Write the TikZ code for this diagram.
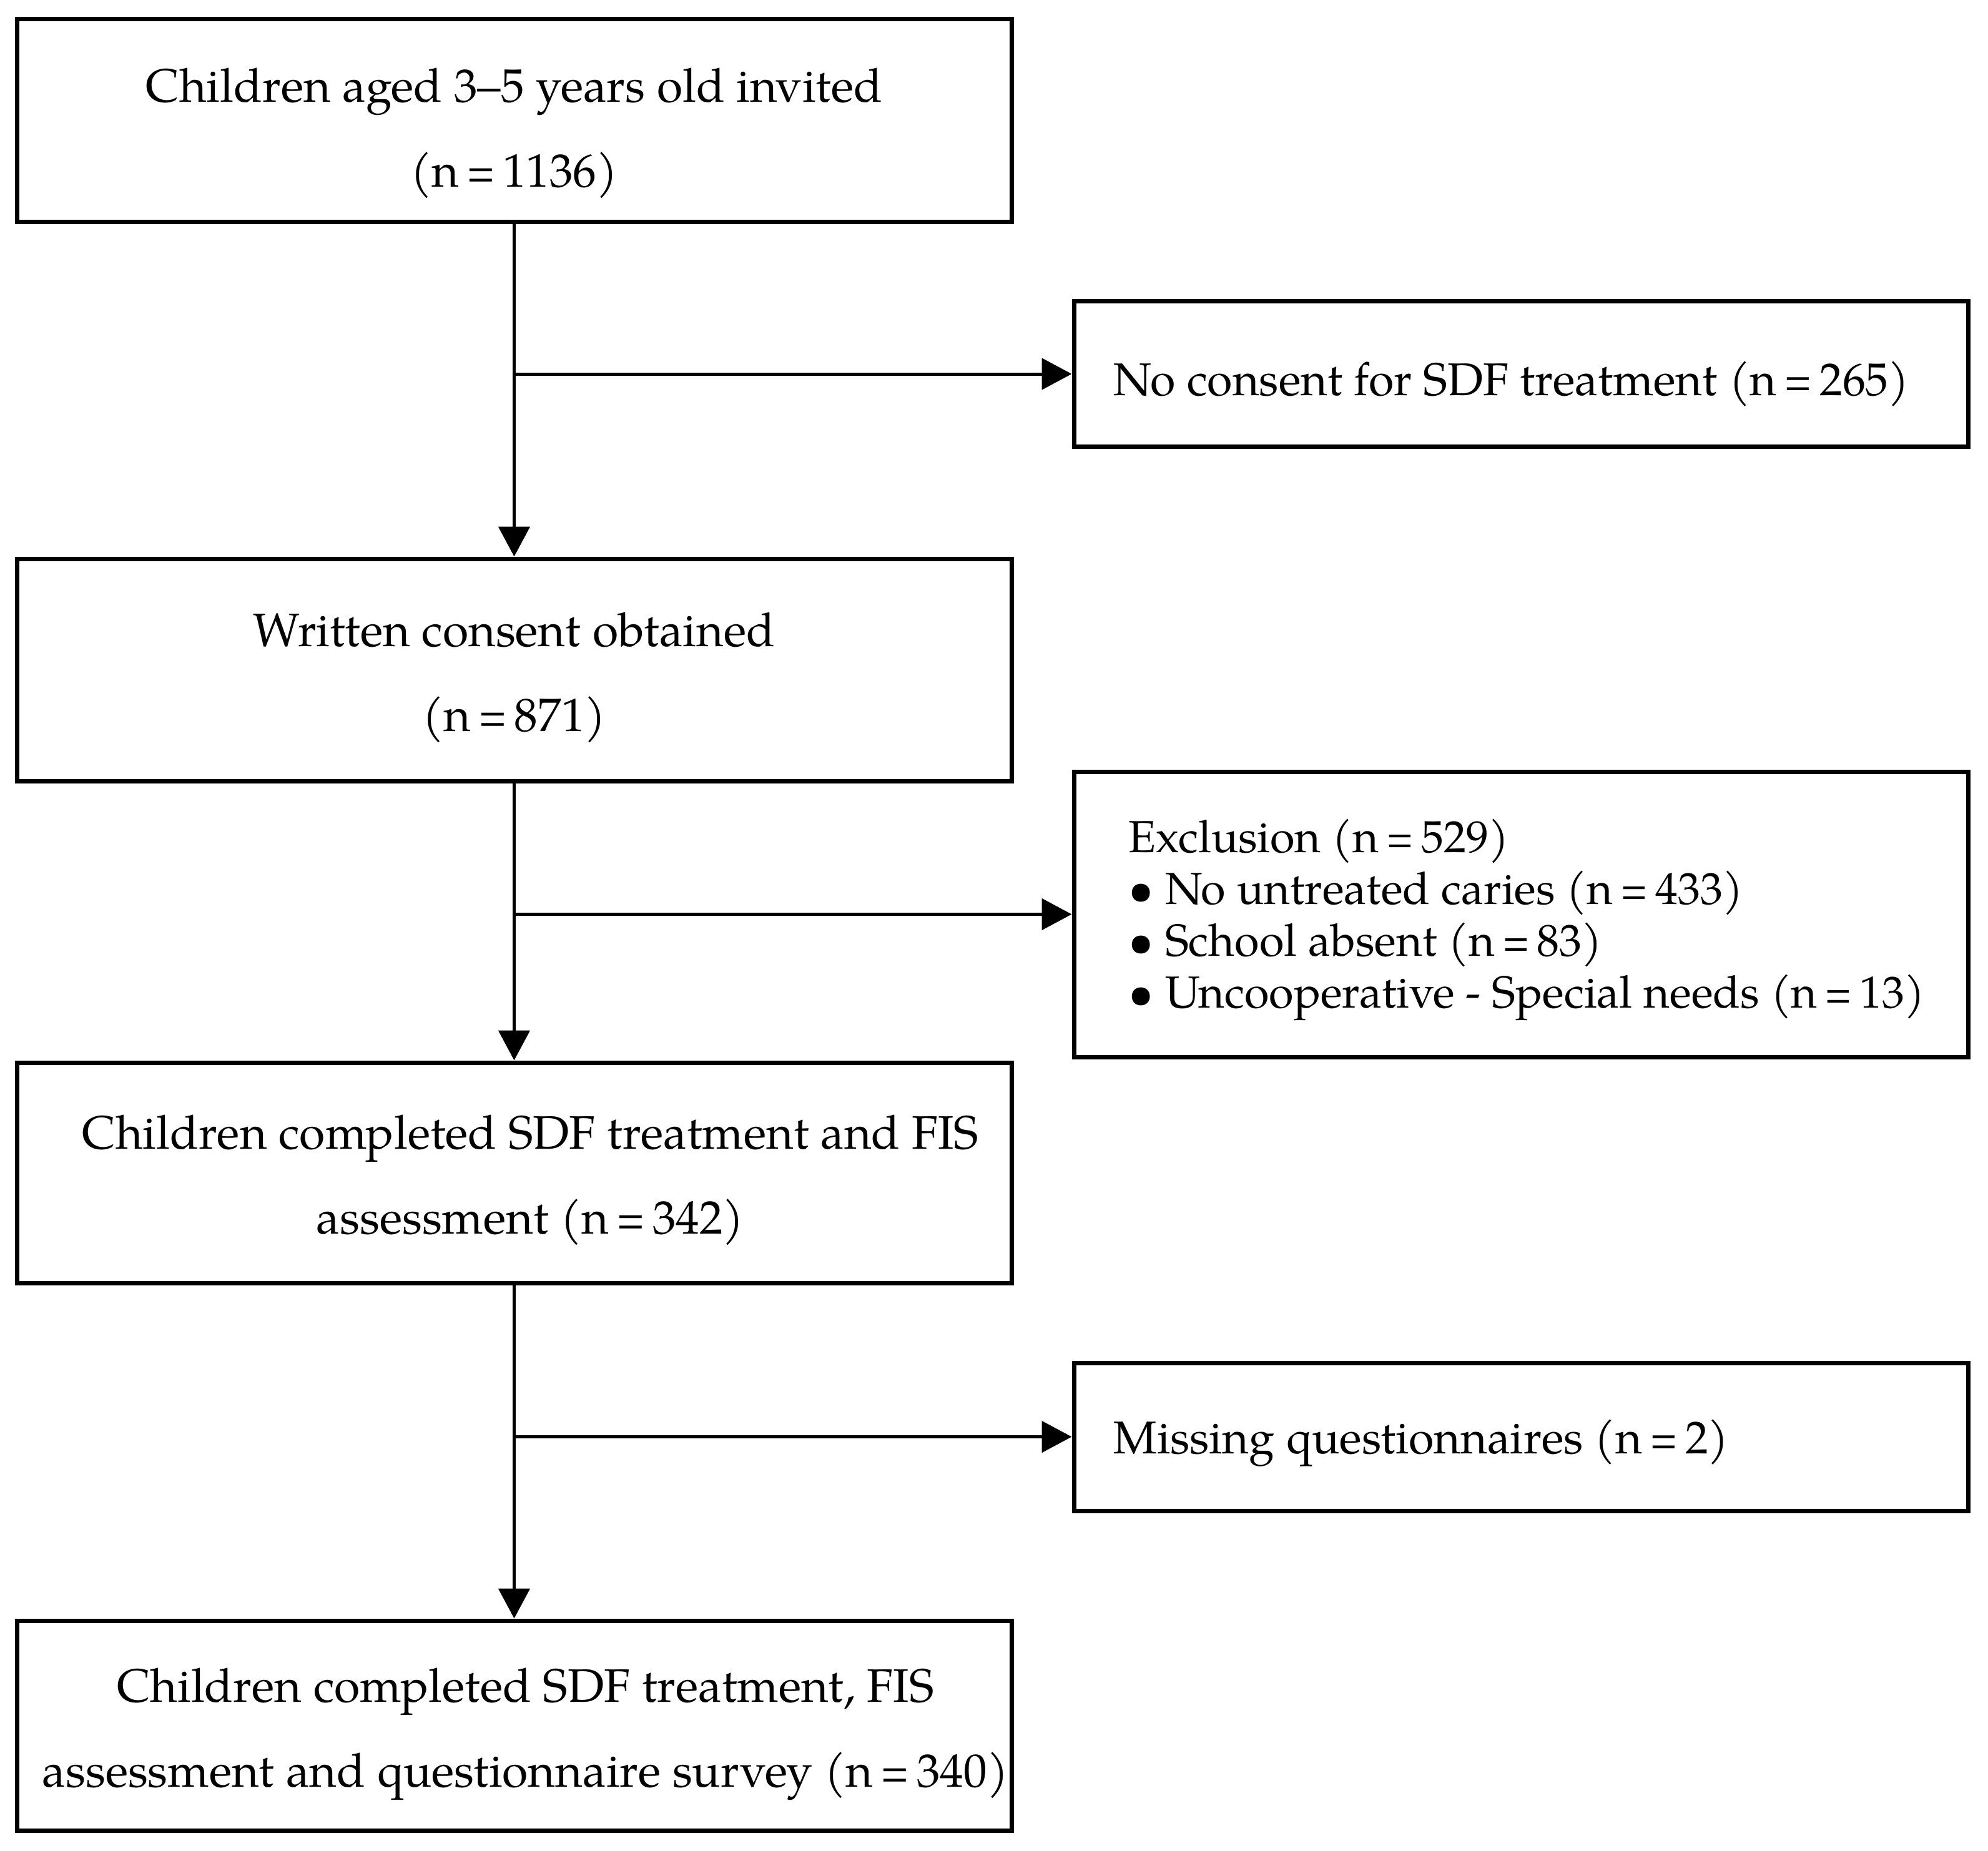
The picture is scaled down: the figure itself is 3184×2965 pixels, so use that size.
\documentclass[tikz,border=0pt]{standalone}
\usepackage{fontspec}
\setmainfont{TeX Gyre Pagella}
\usetikzlibrary{arrows.meta}
\newcommand{\eqs}{\kern3pt\scalebox{0.8}[1]{=}\kern3pt}
\begin{document}
\begin{tikzpicture}[x=0.25pt,y=-0.25pt,
  box/.style={draw,line width=1.75pt,rectangle,inner sep=0pt,minimum width=398.25pt},
  sbox/.style={draw,line width=1.75pt,rectangle,inner sep=0pt,minimum width=358pt},
  mtext/.style={align=center,inner sep=0pt,font=\fontsize{18.8pt}{34pt}\selectfont},
  stext/.style={align=left,inner sep=0pt,anchor=west,font=\fontsize{18.4pt}{20.75pt}\selectfont},
  conn/.style={line width=1.25pt,-{Triangle[length=12pt,width=12.5pt]}}]
\path[use as bounding box,fill=white] (0,0) rectangle (3184,2965);
\node[box,minimum height=81.25pt] (b1) at (823.5,193.5) {};
\node[box,minimum height=89pt] (b2) at (823.5,1073) {};
\node[box,minimum height=88.25pt] (b3) at (823.5,1878.5) {};
\node[box,minimum height=84pt] (b4) at (823.5,2764) {};
\node[sbox,minimum height=58pt] (r1) at (2436,599) {};
\node[sbox,minimum height=114.25pt] (r2) at (2436,1464.5) {};
\node[sbox,minimum height=59.25pt] (r3) at (2436,2301.5) {};
\node[mtext,yshift=-5pt] (t1) at (b1) {Children aged 3–5 years old invited\\(n\eqs 1136)};
\node[mtext,yshift=-3pt] (t2) at (b2) {Written consent obtained\\(n\eqs 871)};
\node[mtext,yshift=-3pt] (t3) at (b3) {\hspace*{13pt}Children completed SDF treatment and FIS\\\hspace*{13pt}assessment (n\eqs 342)};
\node[mtext,yshift=-3.5pt] (t4) at (b4) {\hspace*{9pt}Children completed SDF treatment, FIS\\\hspace*{9pt}assessment and questionnaire survey (n\eqs 340)};
\node[stext,xshift=16.6pt,yshift=-4pt] (s1) at (r1.west) {No consent for SDF treatment (n\eqs 265)};
\node[stext,xshift=22.6pt,yshift=-2.25pt,font=\fontsize{18pt}{20.75pt}\selectfont] (s2) at (r2.west) {Exclusion (n\eqs 529)\\• No untreated caries (n\eqs 433)\\• School absent (n\eqs 83)\\• Uncooperative - Special needs (n\eqs 13)};
\node[stext,xshift=16.6pt,yshift=-2.5pt] (s3) at (r3.west) {Missing questionnaires (n\eqs 2)};
\draw[conn] (b1.south) -- (b2.north);
\draw[conn] (b2.south) -- (b3.north);
\draw[conn] (b3.south) -- (b4.north);
\draw[conn] (b1.south |- r1.west) -- (r1.west);
\draw[conn] (b2.south |- r2.west) -- (r2.west);
\draw[conn] (b3.south |- r3.west) -- (r3.west);
\end{tikzpicture}
\end{document}
